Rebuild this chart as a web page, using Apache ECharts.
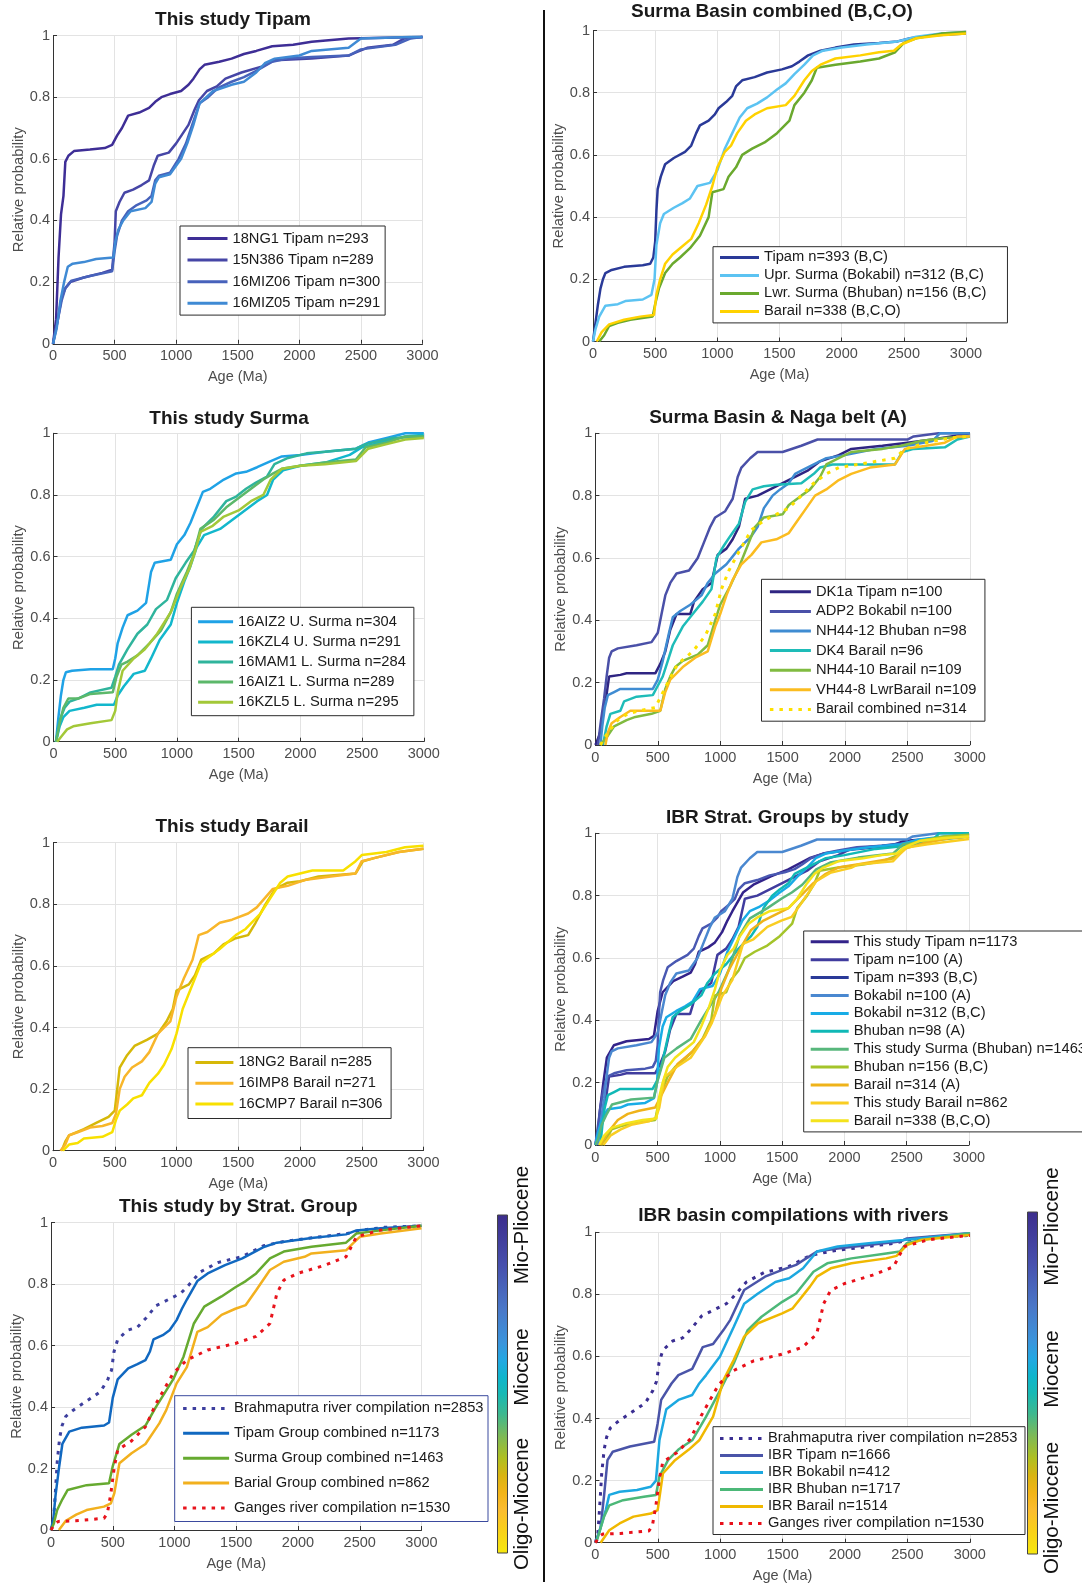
<!DOCTYPE html>
<html>
<head>
<meta charset="utf-8">
<script src="https://cdn.jsdelivr.net/npm/echarts@6/dist/echarts.min.js"></script>
<style>
  html, body { margin: 0; padding: 0; background: #fff; }
  #chart { width: 1082px; height: 1585px; }
</style>
</head>
<body>
<div id="chart"></div>
<script>
// ---- data: [age (Ma), cumulative relative probability] ----
const ageTicks = [0, 500, 1000, 1500, 2000, 2500, 3000]
const probTicks = [0, 0.2, 0.4, 0.6, 0.8, 1]

// This study Tipam
const ng1Tipam = [[0,0],[25,0.08],[45,0.28],[65,0.42],[85,0.48],[100,0.59],[125,0.61],[170,0.625],[300,0.63],[420,0.635],[480,0.645],[520,0.675],[560,0.7],[610,0.74],[700,0.75],[780,0.765],[830,0.785],[880,0.8],[950,0.81],[1040,0.82],[1100,0.84],[1140,0.86],[1190,0.89],[1230,0.905],[1350,0.915],[1450,0.925],[1550,0.94],[1650,0.95],[1780,0.965],[1950,0.97],[2100,0.98],[2400,0.99],[3000,0.995]]
const n386Tipam = [[0,0],[40,0.08],[70,0.15],[100,0.18],[140,0.2],[250,0.215],[400,0.23],[480,0.24],[500,0.33],[510,0.43],[540,0.46],[580,0.49],[650,0.5],[720,0.515],[780,0.53],[820,0.58],[850,0.61],[940,0.62],[1000,0.65],[1050,0.68],[1100,0.71],[1150,0.76],[1185,0.79],[1250,0.82],[1330,0.835],[1400,0.86],[1530,0.88],[1700,0.9],[1800,0.92],[2100,0.925],[2400,0.935],[2460,0.945],[2550,0.96],[2760,0.97],[2850,0.99],[3000,0.995]]
const miz06Tipam = [[0,0],[40,0.08],[70,0.14],[100,0.18],[150,0.205],[300,0.22],[480,0.235],[500,0.3],[520,0.35],[560,0.4],[610,0.43],[680,0.45],[760,0.465],[800,0.48],[830,0.53],[860,0.545],[950,0.555],[1020,0.6],[1080,0.65],[1130,0.71],[1190,0.78],[1260,0.8],[1340,0.83],[1450,0.85],[1550,0.865],[1650,0.885],[1780,0.915],[1900,0.925],[2100,0.93],[2400,0.935],[2500,0.955],[2780,0.97],[2900,0.99],[3000,0.995]]
const miz05Tipam = [[0,0],[30,0.05],[60,0.14],[90,0.2],[120,0.25],[160,0.26],[250,0.265],[350,0.275],[490,0.28],[505,0.33],[530,0.37],[570,0.4],[630,0.43],[750,0.44],[800,0.46],[830,0.52],[860,0.54],[950,0.55],[1040,0.6],[1090,0.65],[1140,0.71],[1190,0.78],[1300,0.82],[1450,0.84],[1550,0.85],[1650,0.88],[1720,0.91],[1800,0.925],[2000,0.935],[2100,0.95],[2400,0.96],[2500,0.99],[2900,0.995],[3000,0.995]]

// Surma Basin combined (B,C,O)
const tipamBC = [[0,0],[20,0.06],[40,0.12],[60,0.17],[80,0.2],[100,0.22],[150,0.23],[250,0.24],[400,0.245],[460,0.25],[485,0.27],[500,0.32],[510,0.42],[520,0.49],[545,0.53],[580,0.57],[650,0.59],[740,0.61],[790,0.63],[830,0.67],[860,0.695],[930,0.71],[980,0.73],[1010,0.75],[1070,0.77],[1120,0.79],[1150,0.82],[1200,0.84],[1300,0.85],[1400,0.865],[1520,0.875],[1600,0.885],[1660,0.9],[1730,0.92],[1830,0.935],[1950,0.945],[2100,0.955],[2300,0.96],[2450,0.965],[2550,0.975],[2750,0.985],[3000,0.99]]
const uprSurmaBC = [[0,0],[20,0.04],[50,0.08],[100,0.115],[200,0.12],[260,0.13],[400,0.135],[470,0.15],[495,0.2],[510,0.31],[540,0.38],[570,0.41],[650,0.43],[720,0.445],[780,0.46],[840,0.5],[940,0.51],[1000,0.55],[1060,0.62],[1120,0.67],[1180,0.72],[1240,0.75],[1320,0.765],[1400,0.785],[1480,0.81],[1550,0.83],[1620,0.86],[1700,0.89],[1770,0.92],[1850,0.935],[2000,0.945],[2200,0.955],[2450,0.965],[2600,0.98],[2800,0.99],[3000,0.995]]
const lwrSurmaBC = [[50,0],[90,0.02],[130,0.05],[200,0.06],[300,0.07],[480,0.08],[500,0.12],[530,0.17],[580,0.22],[640,0.25],[700,0.27],[780,0.3],[860,0.34],[930,0.4],[960,0.48],[1050,0.49],[1090,0.53],[1150,0.56],[1200,0.6],[1280,0.62],[1380,0.64],[1480,0.67],[1580,0.71],[1620,0.76],[1700,0.8],[1760,0.84],[1800,0.88],[1950,0.89],[2150,0.9],[2300,0.91],[2430,0.93],[2500,0.96],[2600,0.975],[2800,0.99],[3000,0.995]]
const barailBCO = [[30,0],[70,0.03],[130,0.055],[250,0.07],[380,0.08],[490,0.085],[510,0.15],[540,0.2],[580,0.25],[640,0.28],[700,0.3],[790,0.33],[850,0.38],[910,0.44],[960,0.5],[1000,0.56],[1060,0.61],[1110,0.63],[1160,0.67],[1230,0.71],[1300,0.73],[1400,0.75],[1550,0.76],[1620,0.79],[1700,0.84],[1760,0.87],[1830,0.89],[1950,0.91],[2150,0.92],[2300,0.93],[2420,0.935],[2480,0.955],[2600,0.975],[2800,0.985],[3000,0.99]]

// This study Surma
const aiz2Surma = [[20,0],[40,0.08],[60,0.15],[80,0.2],[100,0.225],[150,0.23],[300,0.235],[480,0.235],[500,0.27],[520,0.32],[560,0.37],[600,0.41],[680,0.425],[750,0.45],[790,0.55],[820,0.58],[950,0.59],[1000,0.64],[1060,0.67],[1110,0.71],[1160,0.76],[1210,0.81],[1270,0.82],[1380,0.85],[1480,0.87],[1560,0.875],[1650,0.89],[1760,0.91],[1850,0.925],[2000,0.93],[2200,0.94],[2450,0.95],[2550,0.97],[2700,0.985],[2850,1],[3000,1]]
const kzl4Surma = [[20,0],[50,0.05],[80,0.08],[130,0.1],[250,0.11],[350,0.12],[490,0.12],[520,0.15],[570,0.18],[650,0.22],[740,0.23],[790,0.27],[860,0.33],[950,0.38],[1000,0.45],[1060,0.52],[1110,0.57],[1160,0.63],[1220,0.67],[1350,0.69],[1450,0.72],[1550,0.75],[1650,0.78],[1730,0.8],[1780,0.85],[1860,0.88],[2000,0.895],[2200,0.905],[2400,0.93],[2500,0.955],[2700,0.975],[2850,0.99],[3000,0.995]]
const mam1Surma = [[20,0],[50,0.07],[90,0.11],[130,0.13],[200,0.14],[300,0.16],[470,0.175],[500,0.21],[530,0.25],[600,0.3],[680,0.35],[760,0.38],[830,0.43],[920,0.46],[990,0.53],[1070,0.58],[1140,0.62],[1200,0.69],[1300,0.73],[1400,0.78],[1480,0.795],[1560,0.82],[1640,0.84],[1730,0.86],[1790,0.9],[1900,0.92],[2050,0.935],[2200,0.94],[2450,0.95],[2530,0.965],[2750,0.985],[3000,0.99]]
const aiz1Surma = [[20,0],[50,0.06],[80,0.11],[120,0.14],[200,0.14],[300,0.155],[480,0.16],[510,0.21],[550,0.25],[600,0.26],[680,0.28],[780,0.32],[870,0.36],[950,0.42],[1000,0.48],[1080,0.55],[1130,0.6],[1190,0.69],[1300,0.72],[1400,0.76],[1500,0.79],[1600,0.82],[1700,0.85],[1780,0.87],[1850,0.885],[2000,0.895],[2200,0.905],[2450,0.915],[2530,0.955],[2700,0.97],[2850,0.99],[3000,0.99]]
const kzl5Surma = [[30,0],[70,0.02],[110,0.04],[160,0.05],[300,0.06],[470,0.07],[500,0.1],[520,0.16],[560,0.23],[650,0.27],[740,0.3],[840,0.35],[950,0.42],[1030,0.5],[1100,0.56],[1150,0.62],[1190,0.68],[1290,0.7],[1380,0.73],[1500,0.75],[1600,0.78],[1700,0.8],[1760,0.85],[1850,0.885],[2000,0.895],[2200,0.9],[2450,0.91],[2550,0.95],[2700,0.965],[2850,0.98],[3000,0.985]]

// Surma Basin & Naga belt (A)
const dk1aTipam = [[0,0],[30,0.03],[45,0.05],[65,0.12],[85,0.15],[110,0.22],[200,0.225],[250,0.23],[480,0.23],[520,0.26],[560,0.3],[600,0.37],[650,0.42],[760,0.42],[790,0.46],[860,0.5],[930,0.52],[980,0.61],[1050,0.63],[1100,0.66],[1150,0.7],[1200,0.79],[1300,0.8],[1400,0.82],[1500,0.84],[1600,0.86],[1700,0.88],[1800,0.91],[1950,0.93],[2050,0.95],[2300,0.96],[2500,0.97],[2700,0.98],[2850,0.99],[3000,1]]
const adp2Bokabil = [[20,0],[45,0.08],[70,0.15],[90,0.22],[110,0.28],[130,0.3],[180,0.31],[330,0.32],[450,0.33],[500,0.36],[530,0.42],[560,0.48],[600,0.52],[650,0.55],[750,0.56],[820,0.6],[870,0.65],[920,0.7],[960,0.73],[1040,0.75],[1100,0.79],[1140,0.86],[1170,0.89],[1240,0.92],[1300,0.94],[1500,0.94],[1650,0.96],[1780,0.98],[2500,0.98],[2550,0.99],[2750,1],[3000,1]]
const nh4412Bhuban = [[40,0],[55,0.06],[75,0.12],[100,0.16],[150,0.17],[200,0.18],[460,0.18],[500,0.21],[540,0.27],[590,0.36],[620,0.41],[680,0.43],[760,0.45],[850,0.48],[900,0.52],[960,0.55],[1050,0.58],[1150,0.63],[1250,0.67],[1300,0.7],[1350,0.76],[1420,0.8],[1480,0.82],[1550,0.84],[1600,0.87],[1650,0.88],[1750,0.9],[1850,0.92],[2000,0.93],[2250,0.95],[2500,0.96],[2700,0.975],[2760,1],[3000,1]]
const dk4Barail = [[60,0],[90,0.06],[120,0.1],[200,0.11],[230,0.14],[330,0.155],[460,0.16],[500,0.19],[540,0.22],[580,0.27],[620,0.32],[700,0.38],[780,0.42],[860,0.46],[930,0.5],[970,0.6],[1030,0.64],[1080,0.67],[1150,0.71],[1200,0.78],[1260,0.82],[1350,0.83],[1450,0.835],[1650,0.84],[1750,0.87],[1800,0.89],[1900,0.9],[2400,0.9],[2460,0.94],[2550,0.95],[2800,0.955],[2900,0.98],[3000,0.99]]
const nh4410Barail = [[40,0],[100,0.03],[150,0.06],[250,0.08],[320,0.09],[450,0.1],[520,0.11],[560,0.18],[600,0.22],[640,0.25],[700,0.27],[820,0.29],[900,0.32],[960,0.4],[1000,0.45],[1080,0.51],[1150,0.57],[1220,0.64],[1280,0.7],[1350,0.73],[1500,0.74],[1550,0.77],[1650,0.8],[1720,0.82],[1800,0.86],[1850,0.9],[1950,0.92],[2050,0.94],[2300,0.95],[2450,0.96],[2600,0.975],[2800,0.985],[3000,0.99]]
const vh448LwrBarail = [[80,0],[100,0.04],[130,0.07],[200,0.09],[280,0.11],[520,0.11],[560,0.17],[600,0.21],[700,0.25],[800,0.28],[900,0.3],[960,0.38],[1000,0.42],[1050,0.48],[1100,0.53],[1170,0.58],[1250,0.61],[1330,0.65],[1450,0.66],[1550,0.68],[1620,0.72],[1690,0.76],[1760,0.8],[1850,0.82],[1950,0.85],[2050,0.87],[2200,0.89],[2400,0.9],[2480,0.95],[2650,0.96],[2800,0.97],[2900,0.99],[3000,0.99]]
const barailA = [[40,0],[100,0.04],[180,0.08],[260,0.1],[350,0.11],[480,0.12],[530,0.16],[580,0.2],[660,0.26],[780,0.3],[880,0.35],[960,0.42],[1010,0.5],[1070,0.56],[1150,0.62],[1250,0.69],[1350,0.72],[1450,0.74],[1550,0.76],[1650,0.8],[1750,0.84],[1850,0.87],[1950,0.89],[2100,0.9],[2400,0.92],[2480,0.95],[2650,0.97],[2850,0.985],[3000,0.99]]

// This study Barail
const ng2Barail = [[70,0],[100,0.03],[130,0.05],[250,0.07],[350,0.09],[450,0.11],[500,0.13],[520,0.2],[540,0.27],[600,0.31],[660,0.34],[760,0.36],[850,0.38],[920,0.42],[970,0.46],[1000,0.52],[1100,0.54],[1150,0.57],[1200,0.62],[1300,0.64],[1380,0.67],[1480,0.69],[1580,0.7],[1640,0.74],[1720,0.8],[1800,0.85],[1900,0.87],[2000,0.875],[2150,0.89],[2450,0.9],[2510,0.94],[2600,0.95],[2800,0.97],[3000,0.98]]
const imp8Barail = [[60,0],[100,0.02],[130,0.05],[200,0.06],[300,0.075],[400,0.08],[480,0.09],[510,0.12],[540,0.2],[580,0.24],[640,0.27],[720,0.29],[780,0.32],[850,0.38],[950,0.42],[1000,0.5],[1060,0.56],[1130,0.62],[1180,0.7],[1250,0.71],[1350,0.74],[1450,0.75],[1580,0.77],[1650,0.79],[1780,0.85],[1900,0.86],[2050,0.88],[2250,0.89],[2450,0.9],[2500,0.94],[2600,0.95],[2800,0.97],[3000,0.98]]
const cmp7Barail = [[80,0],[130,0.02],[200,0.025],[250,0.04],[400,0.045],[480,0.06],[510,0.1],[540,0.13],[600,0.15],[650,0.17],[720,0.18],[780,0.22],[850,0.25],[900,0.28],[960,0.33],[1000,0.38],[1050,0.46],[1110,0.52],[1160,0.57],[1200,0.61],[1350,0.655],[1480,0.7],[1560,0.72],[1680,0.77],[1760,0.82],[1840,0.87],[1900,0.89],[2000,0.9],[2100,0.91],[2350,0.91],[2450,0.94],[2500,0.96],[2700,0.97],[2850,0.985],[3000,0.99]]

// This study by Strat. Group + river compilations
const brahmaputra = [[0,0],[20,0.03],[35,0.12],[50,0.22],[70,0.3],[90,0.34],[120,0.37],[180,0.39],[290,0.42],[400,0.45],[460,0.49],[490,0.52],[510,0.58],[540,0.62],[620,0.65],[700,0.66],[770,0.69],[850,0.73],[950,0.75],[1050,0.77],[1100,0.79],[1210,0.84],[1350,0.87],[1550,0.89],[1720,0.925],[1900,0.94],[2100,0.95],[2400,0.965],[2500,0.975],[2700,0.985],[3000,0.99]]
const tipamGroup = [[0,0],[20,0.04],[36,0.11],[64,0.2],[92,0.28],[148,0.32],[250,0.333],[430,0.34],[470,0.35],[500,0.43],[540,0.49],[625,0.526],[700,0.54],[765,0.553],[800,0.58],[830,0.62],[905,0.634],[960,0.65],[1017,0.683],[1060,0.72],[1100,0.75],[1185,0.81],[1269,0.835],[1409,0.862],[1549,0.884],[1717,0.92],[1829,0.935],[2109,0.95],[2389,0.962],[2473,0.975],[2669,0.982],[3000,0.99]]
const surmaGroup = [[0,0],[22,0.02],[50,0.065],[92,0.1],[134,0.13],[288,0.146],[470,0.152],[499,0.206],[554,0.28],[652,0.31],[765,0.34],[849,0.4],[989,0.49],[1073,0.564],[1157,0.672],[1241,0.727],[1381,0.76],[1493,0.79],[1577,0.81],[1661,0.835],[1773,0.884],[1885,0.906],[2109,0.922],[2389,0.935],[2473,0.965],[2669,0.975],[3000,0.99]]
const barailGroup = [[64,0],[120,0.03],[204,0.05],[288,0.065],[429,0.076],[485,0.087],[513,0.12],[554,0.217],[652,0.25],[765,0.28],[877,0.347],[933,0.39],[1017,0.477],[1100,0.53],[1185,0.645],[1269,0.66],[1381,0.7],[1493,0.72],[1577,0.732],[1661,0.78],[1773,0.846],[1885,0.873],[2053,0.889],[2109,0.9],[2389,0.91],[2445,0.933],[2501,0.954],[2669,0.965],[3000,0.982]]
const ganges = [[0,0],[30,0.02],[60,0.028],[200,0.03],[429,0.038],[456,0.054],[485,0.12],[513,0.206],[540,0.26],[652,0.29],[765,0.336],[849,0.41],[989,0.51],[1100,0.553],[1269,0.586],[1493,0.607],[1661,0.63],[1773,0.672],[1829,0.77],[1885,0.813],[1997,0.835],[2221,0.862],[2389,0.889],[2473,0.954],[2669,0.976],[3000,0.99]]

// IBR basin compilations
const ibrTipam = [[0,0],[42,0.05],[69,0.15],[97,0.266],[139,0.293],[277,0.31],[471,0.325],[499,0.385],[527,0.46],[610,0.513],[665,0.54],[776,0.56],[860,0.63],[943,0.64],[1026,0.685],[1081,0.718],[1192,0.814],[1359,0.857],[1497,0.879],[1608,0.895],[1775,0.938],[1941,0.948],[2191,0.959],[2440,0.97],[2496,0.98],[3000,0.997]]
const ibrBokabil = [[0,0],[28,0.03],[83,0.105],[111,0.154],[194,0.164],[333,0.17],[444,0.18],[485,0.2],[513,0.33],[568,0.43],[665,0.46],[776,0.476],[832,0.513],[887,0.54],[998,0.6],[1109,0.696],[1192,0.77],[1303,0.803],[1442,0.84],[1553,0.852],[1664,0.884],[1775,0.938],[1941,0.954],[2191,0.965],[2468,0.975],[3000,0.997]]
const ibrBhuban = [[0,0],[14,0.01],[69,0.084],[111,0.12],[222,0.137],[388,0.148],[485,0.154],[513,0.213],[582,0.266],[665,0.3],[776,0.33],[887,0.406],[998,0.49],[1109,0.578],[1220,0.685],[1331,0.728],[1497,0.776],[1608,0.803],[1747,0.873],[1858,0.9],[2052,0.916],[2330,0.932],[2440,0.938],[2496,0.965],[2607,0.975],[3000,0.997]]
const ibrBarail = [[42,0],[111,0.04],[194,0.062],[305,0.084],[444,0.094],[499,0.105],[541,0.223],[638,0.266],[749,0.3],[832,0.33],[943,0.406],[1026,0.524],[1109,0.589],[1192,0.664],[1303,0.707],[1497,0.739],[1581,0.755],[1719,0.825],[1775,0.857],[1886,0.884],[2052,0.9],[2330,0.916],[2413,0.924],[2496,0.959],[2607,0.975],[3000,0.991]]

const colorbarLabels = ['Mio-Pliocene', 'Miocene', 'Oligo-Miocene']

// ---- layout / styling ----
const FONT = "'Liberation Sans', Arial, Helvetica, sans-serif"
const DOT = [3.5, 6]

const panels = [
  { title: 'This study Tipam', tx: 233, ty: 21, grid: [53, 35.5, 369.5, 308.3],
    legend: { left: 180, top: 226, gap: 6.6, pad: [5, 5, 4.3, 6], iw: 40 },
    lines: [
      ['18NG1 Tipam n=293', ng1Tipam, '#3e2e96'],
      ['15N386 Tipam n=289', n386Tipam, '#4646a6'],
      ['16MIZ06 Tipam n=300', miz06Tipam, '#4762bb'],
      ['16MIZ05 Tipam n=291', miz05Tipam, '#3f8ad4']
    ] },
  { title: 'Surma Basin combined (B,C,O)', tx: 772, ty: 12.5, grid: [593, 30.5, 373, 311],
    legend: { left: 713, top: 246.7, gap: 3, pad: [3.2, 21, 4, 5.5], iw: 39 },
    lines: [
      ['Tipam n=393 (B,C)', tipamBC, '#2a3a98'],
      ['Upr. Surma (Bokabil) n=312 (B,C)', uprSurmaBC, '#5cc3f2'],
      ['Lwr. Surma (Bhuban) n=156 (B,C)', lwrSurmaBC, '#6aa92e'],
      ['Barail n=338 (B,C,O)', barailBCO, '#ffd200']
    ] },
  { title: 'This study Surma', tx: 229, ty: 420, grid: [53.5, 433.3, 370.3, 308.4],
    legend: { left: 191.4, top: 607.3, gap: 5.1, pad: [7, 8, 6, 5.2], iw: 35 },
    lines: [
      ['16AIZ2 U. Surma n=304', aiz2Surma, '#1fa2e6'],
      ['16KZL4 U. Surma n=291', kzl4Surma, '#12b7cc'],
      ['16MAM1 L. Surma n=284', mam1Surma, '#2fb49c'],
      ['16AIZ1 L. Surma n=289', aiz1Surma, '#5cb86a'],
      ['16KZL5 L. Surma n=295', kzl5Surma, '#a3c838']
    ] },
  { title: 'Surma Basin & Naga belt (A)', tx: 778, ty: 419, grid: [595.4, 433.3, 374.4, 311.7],
    legend: { left: 761.5, top: 579.3, gap: 4.6, pad: [5, 8.6, 4.3, 6.9], iw: 41 },
    lines: [
      ['DK1a Tipam n=100', dk1aTipam, '#2f2582'],
      ['ADP2 Bokabil n=100', adp2Bokabil, '#4a50a8'],
      ['NH44-12 Bhuban n=98', nh4412Bhuban, '#3f8cd2'],
      ['DK4 Barail n=96', dk4Barail, '#1ebcb8'],
      ['NH44-10 Barail n=109', nh4410Barail, '#80bb40'],
      ['VH44-8 LwrBarail n=109', vh448LwrBarail, '#fbbc20'],
      ['Barail combined n=314', barailA, '#fde000', true]
    ] },
  { title: 'This study Barail', tx: 232, ty: 828, grid: [53, 842.7, 370.5, 308],
    legend: { left: 188, top: 1047.7, gap: 5.8, pad: [7.2, 8.6, 7, 5.9], iw: 38 },
    lines: [
      ['18NG2 Barail n=285', ng2Barail, '#d6b808'],
      ['16IMP8 Barail n=271', imp8Barail, '#f8b62a'],
      ['16CMP7 Barail n=306', cmp7Barail, '#f8e000']
    ] },
  { title: 'IBR Strat. Groups by study', tx: 787.4, ty: 819, grid: [595.4, 833.3, 373.6, 311.7],
    legend: { left: 803.7, top: 931, gap: 2.9, pad: [3.3, 5, 3.6, 5.5], iw: 38 },
    lines: [
      ['This study Tipam n=1173', tipamGroup, '#33238a'],
      ['Tipam n=100 (A)', dk1aTipam, '#403c9e'],
      ['Tipam n=393 (B,C)', tipamBC, '#4958b2'],
      ['Bokabil n=100 (A)', adp2Bokabil, '#4a88d0'],
      ['Bokabil n=312 (B,C)', uprSurmaBC, '#18ace6'],
      ['Bhuban n=98 (A)', nh4412Bhuban, '#10b8b6'],
      ['This study Surma (Bhuban) n=1463', surmaGroup, '#58b77c'],
      ['Bhuban n=156 (B,C)', lwrSurmaBC, '#a4c42a'],
      ['Barail n=314 (A)', barailA, '#efb31a'],
      ['This study Barail n=862', barailGroup, '#f9cd22'],
      ['Barail n=338 (B,C,O) ', barailBCO, '#f4e31c']
    ] },
  { title: 'This study by Strat. Group', tx: 238.3, ty: 1208, grid: [51, 1222.7, 370.5, 307.3],
    legend: { left: 174.7, top: 1395.7, gap: 9.9, pad: [5.2, 4.5, 6, 6.9], iw: 46, border: '#3b4a9e' },
    lines: [
      ['Brahmaputra river compilation n=2853', brahmaputra, '#3d3f9e', true],
      ['Tipam Group combined n=1173', tipamGroup, '#1168c0'],
      ['Surma Group combined n=1463', surmaGroup, '#66aa30'],
      ['Barial Group combined n=862', barailGroup, '#f2b01e'],
      ['Ganges river compilation n=1530', ganges, '#e8141c', true]
    ] },
  { title: 'IBR basin compilations with rivers', tx: 793.4, ty: 1217, grid: [595.4, 1232.3, 374.4, 310.4],
    legend: { left: 713, top: 1426.7, gap: 2, pad: [4.2, 3.5, 3.6, 5.5], iw: 43 },
    lines: [
      ['Brahmaputra river compilation n=2853 ', brahmaputra, '#3b2f92', true],
      ['IBR Tipam n=1666', ibrTipam, '#4a54a8'],
      ['IBR Bokabil n=412', ibrBokabil, '#1ca8e0'],
      ['IBR Bhuban n=1717', ibrBhuban, '#4cb878'],
      ['IBR Barail n=1514', ibrBarail, '#f0b800'],
      ['Ganges river compilation n=1530 ', ganges, '#e8101a', true]
    ] }
]

const chart = echarts.init(document.getElementById('chart'), null, { renderer: 'canvas' })

const grids = [], xAxes = [], yAxes = [], titles = [], legends = [], series = []

panels.forEach((p, i) => {
  grids.push({ left: p.grid[0], top: p.grid[1], width: p.grid[2], height: p.grid[3], containLabel: false })
  xAxes.push({
    gridIndex: i, type: 'value', min: ageTicks[0], max: ageTicks[ageTicks.length - 1], interval: ageTicks[1] - ageTicks[0],
    name: 'Age (Ma)', nameLocation: 'middle', nameGap: 26,
    nameTextStyle: { fontSize: 14.5, color: '#4d4d4d', fontFamily: FONT },
    axisLine: { lineStyle: { color: '#333', width: 1 } },
    axisTick: { inside: true, length: 4, lineStyle: { color: '#333' } },
    axisLabel: { fontSize: 14.5, color: '#4d4d4d', margin: 5, fontFamily: FONT, formatter: v => String(v) },
    splitLine: { show: true, lineStyle: { color: '#e3e3e3', width: 1 } }
  })
  yAxes.push({
    gridIndex: i, type: 'value', min: probTicks[0], max: probTicks[probTicks.length - 1], interval: probTicks[1] - probTicks[0],
    name: 'Relative probability', nameLocation: 'middle', nameGap: 27,
    nameTextStyle: { fontSize: 14.8, color: '#4d4d4d', fontFamily: FONT },
    axisLine: { show: true, lineStyle: { color: '#333', width: 1 } },
    axisTick: { show: true, inside: true, length: 4, lineStyle: { color: '#333' } },
    axisLabel: { fontSize: 14.5, color: '#4d4d4d', margin: 3, fontFamily: FONT, formatter: v => String(+v.toFixed(1)) },
    splitLine: { show: true, lineStyle: { color: '#e3e3e3', width: 1 } }
  })
  titles.push({
    text: p.title, left: p.tx, top: p.ty - 10.6, textAlign: 'center', padding: 0,
    textStyle: { fontSize: 19, fontWeight: 'bold', color: '#1a1a1a', fontFamily: FONT }
  })
  legends.push({
    data: p.lines.map(l => l[0]), orient: 'vertical', left: p.legend.left, top: p.legend.top,
    itemWidth: p.legend.iw, itemHeight: 14, itemGap: p.legend.gap, padding: p.legend.pad,
    borderColor: p.legend.border || '#2b2b2b', borderWidth: 1, backgroundColor: '#fff',
    selectedMode: false,
    lineStyle: { width: 3 },
    itemStyle: { opacity: 0 },
    textStyle: { fontSize: 14.7, color: '#1a1a1a', fontFamily: FONT }
  })
  p.lines.forEach(([name, data, color, dotted]) => {
    series.push({
      type: 'line', name, data, xAxisIndex: i, yAxisIndex: i,
      symbol: 'none', silent: true,
      lineStyle: { color, width: dotted ? 3 : 2.5, type: dotted ? DOT : 'solid' },
      itemStyle: { color }
    })
  })
})

// colour bars (stratigraphic age scale) + divider
const parulaStops = [
  { offset: 0, color: '#3c2d8c' }, { offset: 0.15, color: '#4750ad' }, { offset: 0.28, color: '#4a78c8' },
  { offset: 0.38, color: '#3a95dc' }, { offset: 0.43, color: '#23a8e2' }, { offset: 0.48, color: '#0fb5cc' },
  { offset: 0.53, color: '#18b9b4' }, { offset: 0.59, color: '#3fb88e' }, { offset: 0.65, color: '#7ab95a' },
  { offset: 0.72, color: '#b0bf20' }, { offset: 0.77, color: '#d9b412' }, { offset: 0.82, color: '#f2b418' },
  { offset: 0.87, color: '#fbbc30' }, { offset: 0.93, color: '#f9d01a' }, { offset: 1, color: '#f6e80e' }
]

const colorbar = (x, y0, y1, lx, ly) => {
  const els = [{
    type: 'rect', shape: { x, y: y0, width: 10, height: y1 - y0 },
    style: { fill: { type: 'linear', x: 0, y: 0, x2: 0, y2: 1, colorStops: parulaStops }, stroke: '#444', lineWidth: 1 }
  }]
  colorbarLabels.forEach((t, k) => {
    els.push({
      type: 'text', x: lx, y: ly[k], rotation: Math.PI / 2,
      style: { text: t, font: '20.5px ' + FONT, fill: '#111', align: 'center', verticalAlign: 'middle', textAlign: 'center', textVerticalAlign: 'middle' }
    })
  })
  return els
}

const graphics = [
  { type: 'line', shape: { x1: 544, y1: 10, x2: 544, y2: 1582 }, style: { stroke: '#111', lineWidth: 2 } },
  ...colorbar(497.5, 1215, 1553, 522, [1225, 1367, 1504]),
  ...colorbar(1027.5, 1212, 1554, 1052.5, [1226.5, 1369, 1508])
]

chart.setOption({
  animation: false,
  backgroundColor: '#fff',
  textStyle: { fontFamily: FONT },
  title: titles,
  legend: legends,
  grid: grids,
  xAxis: xAxes,
  yAxis: yAxes,
  series,
  graphic: graphics
})
</script>
</body>
</html>
